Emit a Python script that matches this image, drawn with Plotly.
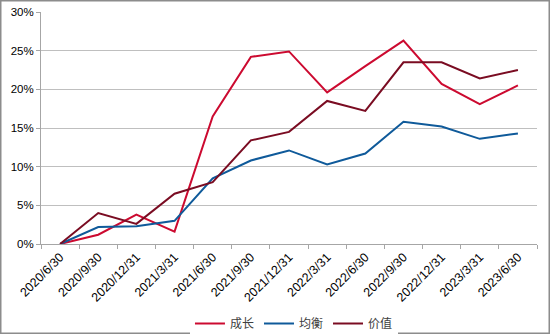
import plotly.graph_objects as go

dates = ["2020/6/30", "2020/9/30", "2020/12/31", "2021/3/31", "2021/6/30", "2021/9/30",
         "2021/12/31", "2022/3/31", "2022/6/30", "2022/9/30", "2022/12/31", "2023/3/31", "2023/6/30"]
growth = [0.0, 1.2, 3.8, 1.6, 16.5, 24.2, 24.9, 19.6, 23.0, 26.3, 20.7, 18.1, 20.5]
balanced = [0.0, 2.2, 2.3, 3.0, 8.5, 10.8, 12.1, 10.3, 11.7, 15.8, 15.2, 13.6, 14.3]
value = [0.0, 4.0, 2.6, 6.5, 8.0, 13.4, 14.5, 18.5, 17.2, 23.5, 23.5, 21.4, 22.5]

series = [("成长", growth, "#CC0A30"), ("均衡", balanced, "#0F5A9A"), ("价值", value, "#7A0C22")]

fig = go.Figure()
for name, vals, col in series:
    fig.add_trace(go.Scatter(x=dates, y=[v / 100 for v in vals], name=name, mode="lines",
                             line=dict(color=col, width=2)))

W, H = 550, 334
ml, mr, mt, mb = 41, 13, 12, 90
pw, ph = W - ml - mr, H - mt - mb

fig.update_layout(
    width=W, height=H,
    margin=dict(l=ml, r=mr, t=mt, b=mb, autoexpand=False),
    paper_bgcolor="white", plot_bgcolor="white",
    font=dict(family="Liberation Sans, Arial, sans-serif", size=11, color="#000000"),
    showlegend=True,
    legend=dict(orientation="h", x=0.51, xanchor="center", y=(mt + ph - 309) / ph, yanchor="top",
                font=dict(size=12, family="Liberation Sans, Noto Sans CJK SC, sans-serif", color="#404040"),
                itemwidth=30, tracegroupgap=0),
    xaxis=dict(type="category", range=[-0.5, len(dates) - 0.5], tickangle=-45, showgrid=False,
               showline=True, automargin=False,
               linecolor="#A6A6A6", linewidth=1, ticks="outside", tickson="boundaries",
               ticklen=4, tickcolor="#A6A6A6", tickfont=dict(size=12.5)),
    yaxis=dict(range=[0, 0.30], dtick=0.05, tickformat=".0%", showgrid=True, automargin=False,
               gridcolor="#BFBFBF", gridwidth=1, showline=True, linecolor="#A6A6A6",
               linewidth=1, ticks="outside", ticklen=4, tickcolor="#A6A6A6",
               zeroline=False, tickfont=dict(size=11.5)),
    shapes=[dict(type="rect", xref="paper", yref="paper",
                 x0=(0.75 - ml) / pw, x1=(W - 0.75 - ml) / pw,
                 y0=(mt + ph - (H - 0.75)) / ph, y1=(mt + ph - 0.75) / ph,
                 line=dict(color="#8C8C8C", width=1.5), layer="above")],
)

fig.write_html("out.html")
